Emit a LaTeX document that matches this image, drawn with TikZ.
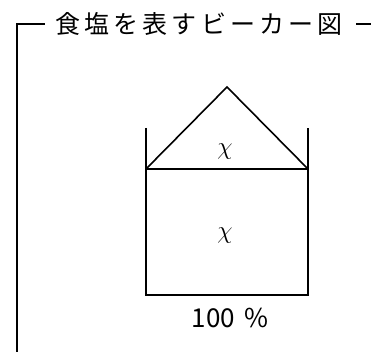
\documentclass[tikz,border=0pt]{standalone}
\usepackage{fontspec}
\newfontfamily\jpfont{Noto Sans CJK JP}
\begin{document}
\begin{tikzpicture}[x=1pt,y=-1pt,
  frameline/.style={line width=2pt,line cap=butt},
  beakerline/.style={line width=1.6pt,line join=miter},
  title/.style={font=\jpfont\fontsize{25}{28}\selectfont,inner sep=0pt,anchor=center},
  label/.style={font=\fontsize{32}{34}\selectfont,inner sep=0pt,anchor=center},
  pct/.style={font=\jpfont\fontsize{26}{28}\selectfont,inner sep=0pt,anchor=center}]
\useasboundingbox (0,0) rectangle (371,352);
% frame
\coordinate (fbot) at (17,352);
\coordinate (fcorner) at (17,24);
\coordinate (fleft) at (45,24);
\coordinate (frs) at (356,24);
\coordinate (fre) at (371,24);
\node[title] (ttl) at (199,24) {食\,塩\,を\,表\,す\,ビ\,ー\,カ\,ー\,図};
\draw[frameline] (fbot) -- (fcorner) -- (fleft);
\draw[frameline] (frs) -- (fre);
% beaker
\coordinate (tl) at (146,128);
\coordinate (bl) at (146,295);
\coordinate (br) at (308,295);
\coordinate (tr) at (308,128);
\coordinate (ml) at (146,169);
\coordinate (mr) at (308,169);
\coordinate (apex) at (227,87);
\draw[beakerline] (tl) -- (bl) -- (br) -- (tr);
\draw[beakerline] (ml) -- (mr);
\draw[beakerline] (ml) -- (apex) -- (mr);
\node[label] (chiup) at (225,152) {$\chi$};
\node[label] (chidn) at (225,236) {$\chi$};
\node[pct] (hund) at (230,318) {100\hspace{9pt}\%};
\end{tikzpicture}
\end{document}
